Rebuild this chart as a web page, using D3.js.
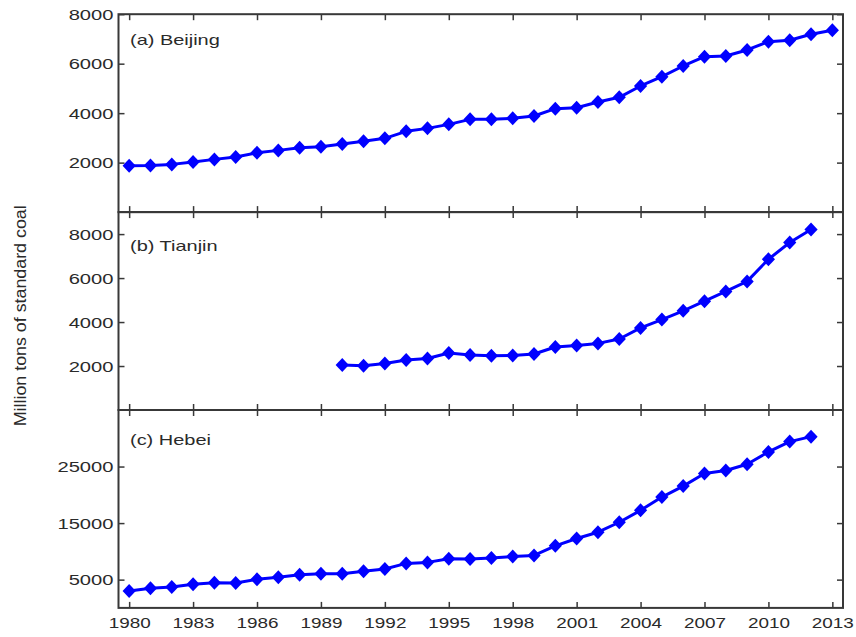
<!DOCTYPE html>
<html>
<head>
<meta charset="utf-8">
<script src="https://cdn.jsdelivr.net/npm/d3@7"></script>
<style>
  html, body { margin: 0; padding: 0; background: #fff; }
  svg { display: block; }
  text { font-family: "Liberation Sans", Arial, sans-serif; fill: #2a2a2a; }
</style>
</head>
<body>
<svg id="chart" width="856" height="637"></svg>
<script>
// Energy consumption, million tons of standard coal
const beijingYears = [1980,1981,1982,1983,1984,1985,1986,1987,1988,1989,1990,1991,1992,1993,1994,1995,1996,1997,1998,1999,2000,2001,2002,2003,2004,2005,2006,2007,2008,2009,2010,2011,2012,2013];
const beijingValues = [1873,1880,1929,2023,2131,2225,2400,2495,2603,2643,2751,2860,2981,3264,3385,3547,3749,3749,3790,3884,4180,4220,4450,4640,5098,5474,5907,6283,6312,6554,6891,6946,7189,7351];

const tianjinYears = [1990,1991,1992,1993,1994,1995,1996,1997,1998,1999,2000,2001,2002,2003,2004,2005,2006,2007,2008,2009,2010,2011,2012];
const tianjinValues = [2042,2010,2115,2271,2345,2590,2499,2467,2481,2545,2865,2938,3029,3230,3733,4112,4510,4948,5391,5848,6854,7616,8211];

const hebeiYears = [1980,1981,1982,1983,1984,1985,1986,1987,1988,1989,1990,1991,1992,1993,1994,1995,1996,1997,1998,1999,2000,2001,2002,2003,2004,2005,2006,2007,2008,2009,2010,2011,2012];
const hebeiValues = [2994,3469,3698,4174,4455,4403,5054,5406,5864,6040,6040,6463,6868,7871,8048,8682,8629,8805,9104,9280,10971,12274,13384,15145,17258,19600,21537,23774,24302,25412,27594,29408,30289];

const yearTicks = [1980,1983,1986,1989,1992,1995,1998,2001,2004,2007,2010,2013];
const panelNames = ["(a) Beijing", "(b) Tianjin", "(c) Hebei"];
const panelMax = [8000, 9000, 35000];
const panelTicks = [[2000,4000,6000,8000],[2000,4000,6000,8000],[5000,15000,25000]];
const yAxisTitle = "Million tons of standard coal";

const panels = [
  { name: panelNames[0], years: beijingYears, values: beijingValues, max: panelMax[0], ticks: panelTicks[0], labelDy: 31 },
  { name: panelNames[1], years: tianjinYears, values: tianjinValues, max: panelMax[1], ticks: panelTicks[1], labelDy: 39 },
  { name: panelNames[2], years: hebeiYears, values: hebeiValues, max: panelMax[2], ticks: panelTicks[2], labelDy: 35 }
];

const svg = d3.select("#chart");
const plotLeft = 118.5, plotRight = 843, plotTop = 14.2, panelH = 197.9;
const tickLen = 6;
const frameColor = "#383838";
const blue = "#0000ff";

const x = d3.scaleLinear().domain([1979.5, 2013.5]).range([plotLeft, plotRight]);

// widen glyphs horizontally to a given factor of their natural length
function widen(sel, factor) {
  sel.each(function () {
    const w = this.getComputedTextLength();
    d3.select(this).attr("textLength", w * factor).attr("lengthAdjust", "spacingAndGlyphs");
  });
}

function styleAxis(g) {
  g.select(".domain").remove();
  g.selectAll(".tick line").attr("stroke", frameColor).attr("stroke-width", 1.5);
}

panels.forEach((p, i) => {
  const y0 = plotTop + i * panelH;
  const y = d3.scaleLinear().domain([0, p.max]).range([y0 + panelH, y0]);
  const g = svg.append("g");

  // ticks on all four sides, pointing inward
  const gl = g.append("g").attr("transform", `translate(${plotLeft},0)`)
    .call(d3.axisLeft(y).tickValues(p.ticks).tickSize(-tickLen).tickPadding(5).tickFormat(d3.format("d")));
  styleAxis(gl);
  gl.selectAll(".tick text").attr("font-size", 14).attr("fill", "#2a2a2a").attr("dy", "0.36em")
    .style("font-family", '"Liberation Sans", Arial, sans-serif');
  widen(gl.selectAll(".tick text"), 1.44);

  const gr = g.append("g").attr("transform", `translate(${plotRight},0)`)
    .call(d3.axisRight(y).tickValues(p.ticks).tickSize(-tickLen).tickFormat(""));
  styleAxis(gr);

  const gt = g.append("g").attr("transform", `translate(0,${y0})`)
    .call(d3.axisTop(x).tickValues(yearTicks).tickSize(-tickLen).tickFormat(""));
  styleAxis(gt);

  const isLast = i === panels.length - 1;
  const gb = g.append("g").attr("transform", `translate(0,${y0 + panelH})`)
    .call(d3.axisBottom(x).tickValues(yearTicks).tickSize(-tickLen).tickPadding(9)
      .tickFormat(isLast ? d3.format("d") : ""));
  styleAxis(gb);
  if (isLast) {
    gb.selectAll(".tick text").attr("font-size", 15).attr("fill", "#2a2a2a")
      .style("font-family", '"Liberation Sans", Arial, sans-serif');
    widen(gb.selectAll(".tick text"), 1.26);
  }

  // frame
  g.append("rect")
    .attr("x", plotLeft).attr("y", y0).attr("width", plotRight - plotLeft).attr("height", panelH)
    .attr("fill", "none").attr("stroke", frameColor).attr("stroke-width", 2);

  // panel label
  const lab = g.append("text")
    .attr("x", 130).attr("y", y0 + p.labelDy)
    .attr("font-size", 15)
    .text(p.name);
  widen(lab, 1.33);

  const pts = p.years.map((yr, k) => [yr, p.values[k]]);

  g.append("path")
    .datum(pts)
    .attr("fill", "none")
    .attr("stroke", blue)
    .attr("stroke-width", 3)
    .attr("stroke-linejoin", "round")
    .attr("d", d3.line().x(d => x(d[0])).y(d => y(d[1])));

  g.selectAll("path.marker")
    .data(pts)
    .join("path")
    .attr("class", "marker")
    .attr("fill", blue)
    .attr("transform", d => `translate(${x(d[0])},${y(d[1])})`)
    .attr("d", "M0,-7L6.6,0L0,7L-6.6,0Z");
});

// shared y-axis title
svg.append("text")
  .attr("transform", "translate(25.5,315.8) rotate(-90)")
  .attr("text-anchor", "middle")
  .attr("font-size", 16)
  .attr("textLength", 221)
  .attr("lengthAdjust", "spacingAndGlyphs")
  .text(yAxisTitle);
</script>
</body>
</html>
